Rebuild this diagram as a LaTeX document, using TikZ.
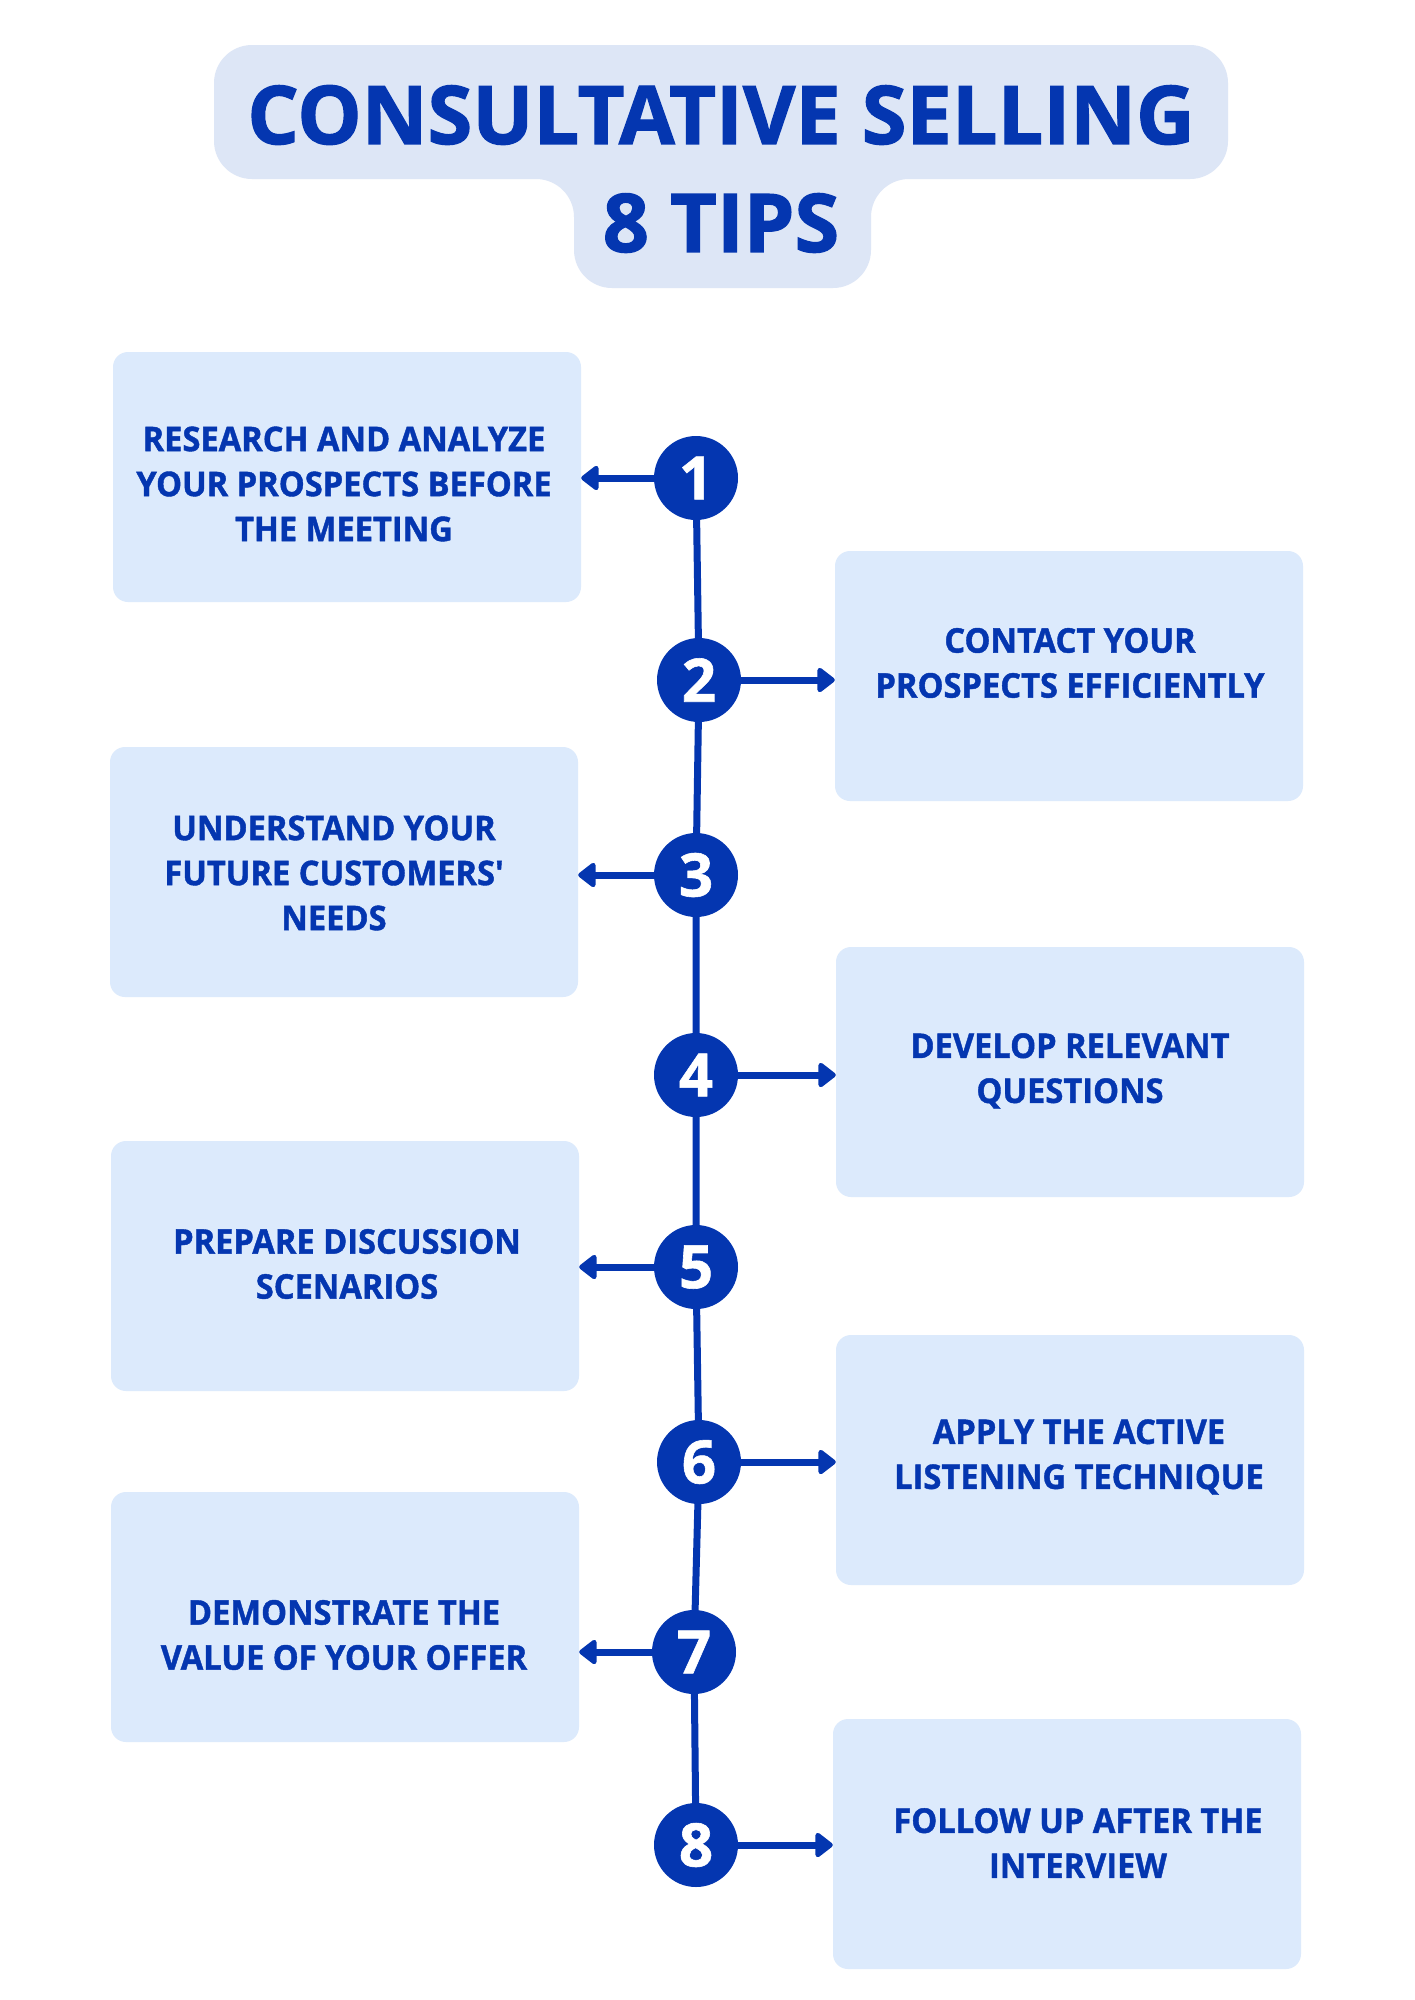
\documentclass[tikz,border=0pt]{standalone}
\usepackage{fontspec}
\newfontfamily\boxfont{Open Sans}[FakeStretch=0.96, BoldFeatures={FakeBold=1.2}]
\newfontfamily\titlefont{Open Sans}[FakeStretch=1.0, BoldFeatures={FakeBold=1.5}]
\newfontfamily\numfont{Open Sans}[BoldFeatures={FakeBold=1}]
\usetikzlibrary{arrows.meta,backgrounds}
\definecolor{navy}{HTML}{0436B0}
\definecolor{boxfill}{HTML}{DCEAFC}
\definecolor{titlefill}{HTML}{DDE6F6}
\tikzset{
  tipbox/.style={fill=boxfill, rounded corners=15pt, minimum width=468pt, minimum height=250pt, inner sep=0pt},
  tiptext/.style={text=navy, align=center, font=\boxfont\fontsize{34}{45}\selectfont\bfseries, inner sep=0pt},
  numcirc/.style={circle, fill=navy, minimum size=84pt, inner sep=0pt, text=white, font=\numfont\fontsize{60}{60}\selectfont\bfseries},
  tiparrow/.style={draw=navy, line width=7pt, -{Triangle[length=19pt,width=28pt,round]}},
  spine/.style={draw=navy, line width=7pt},
  titletext/.style={text=navy, inner sep=0pt, font=\titlefont\fontsize{81}{81}\selectfont\bfseries}
}
\begin{document}
\begin{tikzpicture}[x=1pt,y=-1pt]
\useasboundingbox (0,0) rectangle (1414,2000);
% title shape
\fill[titlefill, rounded corners=38pt] (214,45) -- (1228,45) -- (1228,179) -- (871,179) -- (871,288) -- (574,288) -- (574,179) -- (214,179) -- cycle;
\node[titletext] (title1) at (721,115) {CONSULTATIVE SELLING};
\node[titletext] (title2) at (721,223) {8 TIPS};
% boxes
\node[tipbox] (b1) at (347,477) {};
\node[tipbox] (b2) at (1069,676) {};
\node[tipbox] (b3) at (344,872) {};
\node[tipbox] (b4) at (1070,1072) {};
\node[tipbox] (b5) at (345,1266) {};
\node[tipbox] (b6) at (1070,1460) {};
\node[tipbox] (b7) at (345,1617) {};
\node[tipbox] (b8) at (1067,1844) {};
% texts
\node[tiptext] (t1) at (344,484) {RESEARCH AND ANALYZE\\YOUR PROSPECTS BEFORE\\THE MEETING};
\node[tiptext] (t2) at (1070,663) {CONTACT YOUR\\PROSPECTS EFFICIENTLY};
\node[tiptext] (t3) at (334,873) {UNDERSTAND YOUR\\FUTURE CUSTOMERS'\\NEEDS};
\node[tiptext] (t4) at (1070,1071) {DEVELOP RELEVANT\\QUESTIONS};
\node[tiptext] (t5) at (347,1264) {PREPARE DISCUSSION\\SCENARIOS};
\node[tiptext] (t6) at (1079,1457) {APPLY THE ACTIVE\\LISTENING TECHNIQUE};
\node[tiptext] (t7) at (344,1635) {DEMONSTRATE THE\\VALUE OF YOUR OFFER};
\node[tiptext] (t8) at (1078,1843) {FOLLOW UP AFTER THE\\INTERVIEW};
% circles
\node[numcirc] (c1) at (696,478) {1};
\node[numcirc] (c2) at (699,680) {2};
\node[numcirc] (c3) at (696,875) {3};
\node[numcirc] (c4) at (696,1075) {4};
\node[numcirc] (c5) at (696,1267) {5};
\node[numcirc] (c6) at (699,1462) {6};
\node[numcirc] (c7) at (694,1652) {7};
\node[numcirc] (c8) at (696,1845) {8};
\begin{pgfonlayer}{background}
\fill[white] (0,0) rectangle (1414,2000);
\draw[spine] (c1.center) -- (c2.center) -- (c3.center) -- (c4.center) -- (c5.center) -- (c6.center) -- (c7.center) -- (c8.center);
\end{pgfonlayer}
% arrows
\draw[tiparrow] (c1.west) -- (c1.west -| b1.east);
\draw[tiparrow] (c2.east) -- (c2.east -| b2.west);
\draw[tiparrow] (c3.west) -- (c3.west -| b3.east);
\draw[tiparrow] (c4.east) -- (c4.east -| b4.west);
\draw[tiparrow] (c5.west) -- (c5.west -| b5.east);
\draw[tiparrow] (c6.east) -- (c6.east -| b6.west);
\draw[tiparrow] (c7.west) -- (c7.west -| b7.east);
\draw[tiparrow] (c8.east) -- (c8.east -| b8.west);
\end{tikzpicture}
\end{document}
